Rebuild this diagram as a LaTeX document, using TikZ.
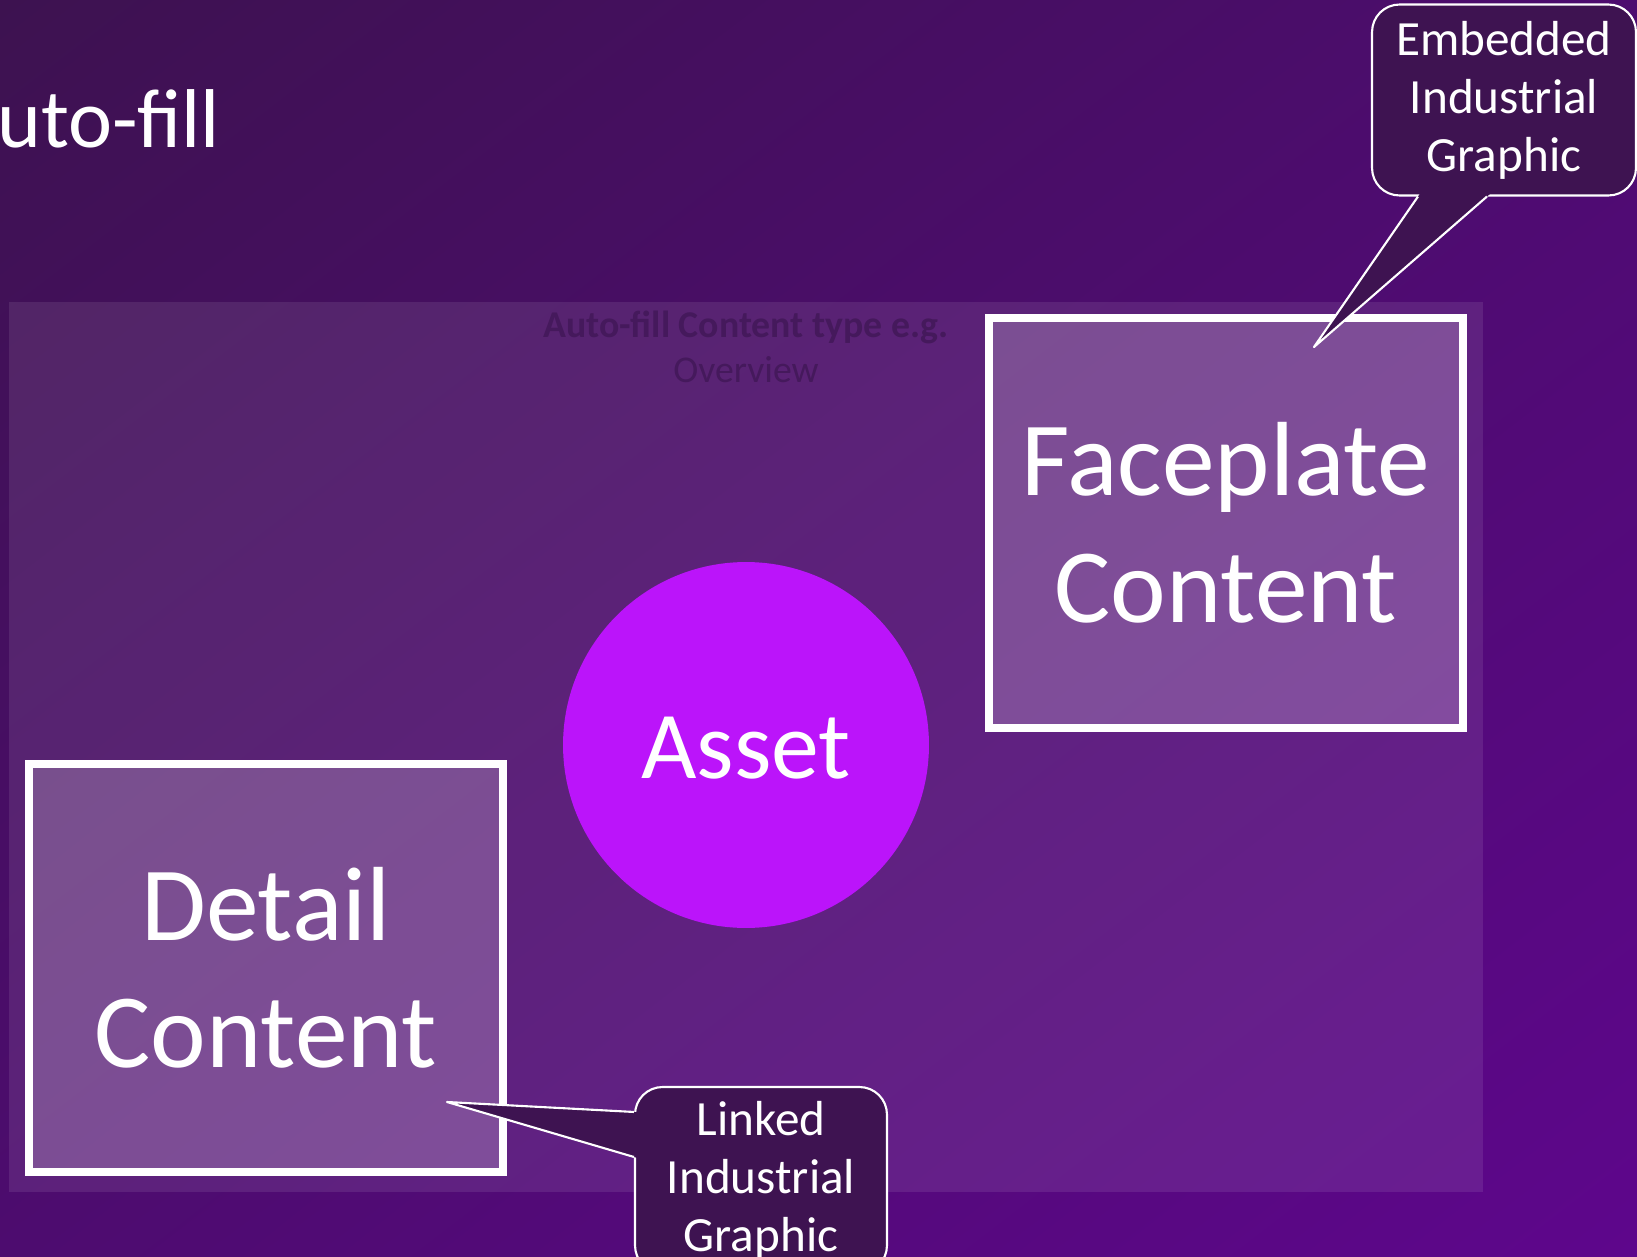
\documentclass[tikz,border=0pt]{standalone}
\usepackage{fontspec}
\setmainfont{Carlito}
\usepackage{xcolor}
\usepackage{tikz}
\usetikzlibrary{calc,shadings}
\tikzset{
  cbox/.style={draw=white, line width=4.5pt, fill=white, fill opacity=0.2, draw opacity=1, text opacity=1,
    text=white, align=center, inner sep=0pt, minimum width=9.48cm, font=\fontsize{60}{72.5}\selectfont},
  bubble/.style={draw=white, line width=1.2pt, fill=callbg, rounded corners=0.55cm, text=white, align=center,
    inner sep=0pt, font=\fontsize{28}{33}\selectfont},
  tail/.style={draw=white, line width=1.2pt, line join=round},
}
\definecolor{bgdark}{HTML}{3D1250}
\definecolor{bgmid}{HTML}{4D0C6F}
\definecolor{bglight}{HTML}{5E068C}
\definecolor{assetc}{HTML}{BB14FA}
\definecolor{callbg}{HTML}{3E1351}
\definecolor{hintc}{HTML}{45195C}

\begin{document}
\begin{tikzpicture}[x=0.02cm, y=-0.02cm,
  hint/.style={text=hintc, align=center, font=\fontsize{21.5}{25.5}\selectfont},
  asset/.style={circle, fill=assetc, minimum size=7.32cm, inner sep=0pt, text=white, text height=38.6pt, text depth=0pt,
    font=\fontsize{54.5}{65}\selectfont}]
  \useasboundingbox (0,0) rectangle (1637,1257);
  \clip (0,0) rectangle (1637,1257);
  \shade[upper left=bgdark, lower right=bglight, upper right=bgmid, lower left=bgmid] (0,0) rectangle (1637,1257);
  \fill[white, fill opacity=0.09] (9,302) rectangle (1483,1192);
  \node[anchor=base west, inner sep=0pt, text=white, font=\fontsize{47.5}{57}\selectfont] (title) at (-3,148) {uto-fill};
  \node[hint] (note) at (746,347) {\textbf{Auto-fill Content type e.g.}\\Overview};
  \node[cbox, minimum height=8.2cm] (face) at (1226,523) {Faceplate\\Content};
  \node[cbox, minimum height=8.16cm] (detail) at (266,968) {Detail\\Content};
  \node[asset] (core) at (746,745) {Asset};
  \node[bubble, minimum width=5.28cm, minimum height=3.82cm] (emb) at (1504,100) {Embedded\\Industrial\\Graphic};
  \coordinate (embTip) at (1314,347);
  \coordinate (embA) at ($(emb.south west)+(47,0)$);
  \coordinate (embB) at ($(emb.south west)+(116,0)$);
  \fill[callbg] ($(embTip)!1.05!(embA)$) -- (embTip) -- ($(embTip)!1.05!(embB)$) -- cycle;
  \draw[tail] (embA) -- (embTip) -- (embB);
  \node[bubble, minimum width=5.04cm, minimum height=3.72cm] (lnk) at (761,1180) {Linked\\Industrial\\Graphic};
  \coordinate (lnkTip) at (447,1102);
  \coordinate (lnkA) at ($(lnk.north west)+(0,26)$);
  \coordinate (lnkB) at ($(lnk.north west)+(0,71)$);
  \fill[callbg] ($(lnkTip)!1.05!(lnkA)$) -- (lnkTip) -- ($(lnkTip)!1.05!(lnkB)$) -- cycle;
  \draw[tail] (lnkA) -- (lnkTip) -- (lnkB);
\end{tikzpicture}
\end{document}
